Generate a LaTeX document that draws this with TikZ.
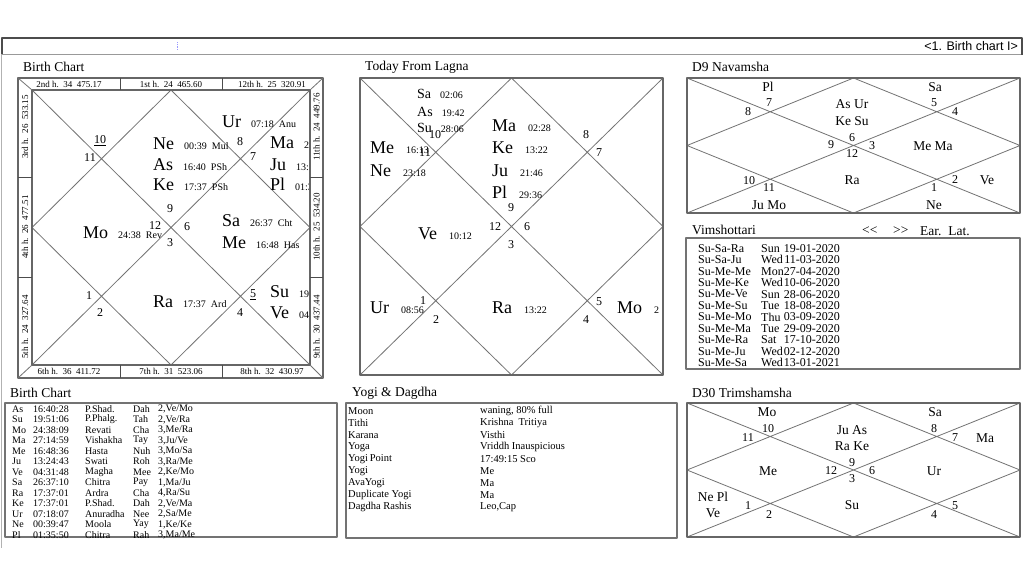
\documentclass[tikz,border=0pt]{standalone}
\usepackage{fontspec}
\setmainfont{Liberation Serif}
\newfontfamily\barfont{Liberation Sans}
\usetikzlibrary{calc}

% planet with its degree, on one baseline
\newcommand\bigpl[3][10pt]{{\fontsize{18}{18}\selectfont #2}\hspace{#1}{\fontsize{10}{10}\selectfont #3}}
\newcommand\smallpl[2]{{\fontsize{14}{14}\selectfont #1}\hspace{9pt}{\fontsize{10}{10}\selectfont #2}}

% north indian chart lines inside a box
\newcommand\rashichart[3]{%
  \coordinate (#1nw) at #2;
  \coordinate (#1se) at #3;
  \coordinate (#1ne) at (#1nw -| #1se);
  \coordinate (#1sw) at (#1nw |- #1se);
  \coordinate (#1n) at ($(#1nw)!.5!(#1ne)$);
  \coordinate (#1e) at ($(#1ne)!.5!(#1se)$);
  \coordinate (#1s) at ($(#1se)!.5!(#1sw)$);
  \coordinate (#1w) at ($(#1sw)!.5!(#1nw)$);
  \draw[chartline] (#1nw) -- (#1se) (#1ne) -- (#1sw) (#1n) -- (#1e) -- (#1s) -- (#1w) -- cycle;
}

\begin{document}
\begin{tikzpicture}[x=1pt, y=-1pt, line join=round,
  chartline/.style={draw=black!55, line width=0.8pt},
  chartbox/.style={draw=black!60, line width=1.6pt},
  panelbox/.style={draw=black!55, line width=1.3pt},
  divider/.style={draw=black!70, line width=1pt},
  title/.style={anchor=west, inner sep=0pt, font=\fontsize{13.5}{13.5}\selectfont},
  planet/.style={anchor=base west, inner sep=0pt},
  hnum/.style={inner sep=0pt, font=\fontsize{12}{12}\selectfont},
  vlabel/.style={inner sep=0pt, font=\fontsize{13.5}{13.5}\selectfont},
  strip/.style={inner sep=0pt, font=\fontsize{9}{9}\selectfont},
  row/.style={anchor=west, inner sep=0pt, font=\fontsize{10}{10}\selectfont}]

\useasboundingbox[fill=white] (0,0) rectangle (1024,576);

% top bar
\draw[black!40, line width=1pt] (2,54) -- (1022,54);
\draw[black!70, line width=1.5pt] (2,54) |- (1022,38) -- (1022,55);
\draw[blue!40, densely dotted, line width=0.8pt] (177,42) -- (177,50);
\node[anchor=east, inner sep=0pt, font=\barfont\fontsize{12.5}{12.5}\selectfont] (pagetab) at (1018,46) {<1. Birth chart I>};
\draw[black!30, line width=1pt] (1.5,54) -- (1.5,548);

% ---- birth chart
\node[title] (bctitle) at (23,67) {Birth Chart};
\rashichart{bc}{(32,90)}{(310,365)}
\begin{scope}
  \clip (bcnw) rectangle (bcse);
  \foreach \p/\x/\y/\d in {Ur/222/127/{07:18\enspace Anu}, Ne/153/149/{00:39\enspace Mul},
    Ma/270/148/{27:14\enspace Vis}, As/153/170/{16:40\enspace PSh}, Ju/270/170/{13:24\enspace Swa},
    Ke/153/190/{17:37\enspace PSh}, Pl/270/190/{01:35\enspace Cht}, Mo/83/238/{24:38\enspace Rev},
    Sa/222/226/{26:37\enspace Cht}, Me/222/248/{16:48\enspace Has}, Ra/153/307/{17:37\enspace Ard},
    Su/270/297/{19:51\enspace PPh}, Ve/270/318/{04:31\enspace Mag}}
    \node[planet] (bc\p) at (\x,\y) {\bigpl{\p}{\d}};
\end{scope}
\foreach \x/\y/\h [count=\i] in {100/141/{\underline{10}}, 90/158/11, 240/142/8, 253/157/7,
  170/209/9, 155/226/12, 187/227/6, 170/243/3, 89/296/1, 100/313/2, 253/295/{\underline{5}}, 240/313/4}
  \node[hnum] (bch\i) at (\x,\y) {\h};
\fill[white, even odd rule] (18,78) rectangle (323,378) (bcnw) rectangle (bcse);
\draw[chartbox] (18,78) rectangle (323,378);
\draw[chartbox] (bcnw) rectangle (bcse);
\draw[chartline] (18,78) -- (bcnw) (323,78) -- (bcne) (323,378) -- (bcse) (18,378) -- (bcsw);
\draw[divider] (120,78) -- (120,90) (222,78) -- (222,90) (120,365) -- (120,378) (222,365) -- (222,378)
  (18,177) -- (32,177) (18,277) -- (32,277) (310,177) -- (323,177) (310,277) -- (323,277);
\node[strip] (h2) at (69,84) {2nd h.\enspace 34\enspace 475.17};
\node[strip] (h1) at (171,84) {1st h.\enspace 24\enspace 465.60};
\node[strip] (h12) at (272,84) {12th h.\enspace 25\enspace 320.91};
\node[strip] (h6) at (69,371.5) {6th h.\enspace 36\enspace 411.72};
\node[strip] (h7) at (171,371.5) {7th h.\enspace 31\enspace 523.06};
\node[strip] (h8) at (272,371.5) {8th h.\enspace 32\enspace 430.97};
\node[strip, rotate=90] (h3) at (25,127) {3rd h.\enspace 26\enspace 533.15};
\node[strip, rotate=90] (h4) at (25,227) {4th h.\enspace 26\enspace 477.51};
\node[strip, rotate=90] (h5) at (25,327) {5th h.\enspace 24\enspace 327.64};
\node[strip, rotate=90] (h11) at (316.5,127) {11th h.\enspace 24\enspace 449.76};
\node[strip, rotate=90] (h10) at (316.5,227) {10th h.\enspace 25\enspace 534.20};
\node[strip, rotate=90] (h9) at (316.5,327) {9th h.\enspace 30\enspace 437.44};

% ---- today from lagna
\node[title] (tltitle) at (365,67) {Today From Lagna};
\rashichart{tl}{(360,78)}{(663,375)}
\begin{scope}
  \clip (tlnw) rectangle (tlse);
  \foreach \p/\x/\y/\d in {Sa/417/98/02:06, As/417/116/19:42, Su/417/132/28:06}
    \node[planet] (tl\p) at (\x,\y) {\smallpl{\p}{\d}};
  \foreach \p/\x/\y/\d in {Me/370/153/16:13, Ne/370/176/23:18, Ma/492/131/02:28, Ke/492/153/13:22,
    Ju/492/176/21:46, Pl/492/198/29:36, Ve/418/239/10:12, Ur/370/313/08:56, Ra/492/313/13:22, Mo/617/313/2}
    \node[planet] (tl\p) at (\x,\y) {\bigpl[12pt]{\p}{\d}};
\end{scope}
\foreach \x/\y/\h in {435/135/10, 425/153/11, 586/135/8, 599/153/7, 511/208/9, 495/227/12,
  527/227/6, 511/245/3, 423/301/1, 436/320/2, 599/302/5, 586/320/4}
  \node[hnum] (tlh\h) at (\x,\y) {\h};
\draw[chartbox] (tlnw) rectangle (tlse);

% ---- D9
\node[title] (d9title) at (692,67) {D9 Navamsha};
\rashichart{nv}{(687,78)}{(1020,213)}
\foreach \x/\y/\t [count=\i] in {768/87/Pl, 935/87/Sa, 852/104/As Ur, 852/121/Ke Su, 933/146/Me Ma,
  852/180/Ra, 769/205/Ju Mo, 987/180/Ve, 934/205/Ne}
  \node[vlabel] (nvp\i) at (\x,\y) {\t};
\foreach \x/\y/\h in {769/103/7, 748/112/8, 934/103/5, 955/112/4, 852/138/6, 831/145/9, 872/146/3,
  852/154/12, 749/181/10, 769/188/11, 934/188/1, 955/180/2}
  \node[hnum] (nvh\h) at (\x,\y) {\h};
\draw[chartbox] (nvnw) rectangle (nvse);

% ---- vimshottari
\node[title] (vdtitle) at (692,230) {Vimshottari};
\node[title] (vdback) at (862,231) {<\kern0pt<};
\node[title] (vdfwd) at (893,231) {>\kern0pt>};
\node[title] (vdear) at (920,231) {Ear.\enspace Lat.};
\draw[panelbox] (686,238) rectangle (1020,369);
\foreach \d/\w/\t [count=\i] in {Su-Sa-Ra/Sun/19-01-2020, Su-Sa-Ju/Wed/11-03-2020, Su-Me-Me/Mon/27-04-2020,
  Su-Me-Ke/Wed/10-06-2020, Su-Me-Ve/Sun/28-06-2020, Su-Me-Su/Tue/18-08-2020, Su-Me-Mo/Thu/03-09-2020,
  Su-Me-Ma/Tue/29-09-2020, Su-Me-Ra/Sat/17-10-2020, Su-Me-Ju/Wed/02-12-2020, Su-Me-Sa/Wed/13-01-2021}
{
  \node[row, font=\fontsize{12}{12}\selectfont] (vd\i) at (698,{248.5+11.4*(\i-1)}) {\d};
  \node[row, font=\fontsize{12}{12}\selectfont] (vdw\i) at (761,{248.5+11.4*(\i-1)}) {\w};
  \node[row, anchor=east, font=\fontsize{12}{12}\selectfont] (vdt\i) at (840,{248.5+11.4*(\i-1)}) {\t};
}

% ---- birth chart table
\node[title] (bttitle) at (10,393) {Birth Chart};
\draw[panelbox] (5,403) rectangle (337,537);
\foreach \p/\l/\n/\s/\k [count=\i] in {As/16:40:28/P.Shad./Dah/{2,Ve/Mo}, Su/19:51:06/P.Phalg./Tah/{2,Ve/Ra},
  Mo/24:38:09/Revati/Cha/{3,Me/Ra}, Ma/27:14:59/Vishakha/Tay/{3,Ju/Ve}, Me/16:48:36/Hasta/Nuh/{3,Mo/Sa},
  Ju/13:24:43/Swati/Roh/{3,Ra/Me}, Ve/04:31:48/Magha/Mee/{2,Ke/Mo}, Sa/26:37:10/Chitra/Pay/{1,Ma/Ju},
  Ra/17:37:01/Ardra/Cha/{4,Ra/Su}, Ke/17:37:01/P.Shad./Dah/{2,Ve/Ma}, Ur/07:18:07/Anuradha/Nee/{2,Sa/Me},
  Ne/00:39:47/Moola/Yay/{1,Ke/Ke}, Pl/01:35:50/Chitra/Rah/{3,Ma/Me}}
{
  \node[row] (bt\i) at (12,{409+10.5*(\i-1)}) {\p};
  \node[row] (btl\i) at (33,{409+10.5*(\i-1)}) {\l};
  \node[row] (btn\i) at (85,{409+10.5*(\i-1)}) {\n};
  \node[row] (bts\i) at (133,{409+10.5*(\i-1)}) {\s};
  \node[row] (btk\i) at (158,{409+10.5*(\i-1)}) {\k};
}

% ---- yogi & dagdha
\node[title] (ygtitle) at (352,393) {Yogi \& Dagdha};
\draw[panelbox] (346,403) rectangle (677,538);
\foreach \a/\b [count=\i] in {Moon/{waning, 80\% full}, Tithi/Krishna\enspace Tritiya, Karana/Visthi,
  Yoga/Vriddh Inauspicious, Yogi\,Point/17:49:15 Sco, Yogi/Me, AvaYogi/Ma, Duplicate Yogi/Ma,
  Dagdha Rashis/{Leo,Cap}}
{
  \node[row, font=\fontsize{10.5}{10.5}\selectfont] (yg\i) at (348,{411+12*(\i-1)}) {\a};
  \node[row, font=\fontsize{10.5}{10.5}\selectfont] (ygv\i) at (480,{411+12*(\i-1)}) {\b};
}

% ---- D30
\node[title] (d30title) at (692,393) {D30 Trimshamsha};
\rashichart{tr}{(687,403)}{(1020,537)}
\foreach \x/\y/\t [count=\i] in {767/412/Mo, 935/412/Sa, 852/430/Ju As, 852/446/Ra Ke, 985/438/Ma,
  768/471/Me, 934/471/Ur, 713/497/Ne Pl, 713/513/Ve, 852/505/Su}
  \node[vlabel] (trp\i) at (\x,\y) {\t};
\foreach \x/\y/\h in {768/429/10, 748/438/11, 934/429/8, 955/438/7, 852/463/9, 831/471/12, 872/471/6,
  852/479/3, 748/506/1, 769/515/2, 934/515/4, 955/506/5}
  \node[hnum] (trh\h) at (\x,\y) {\h};
\draw[chartbox] (trnw) rectangle (trse);
\end{tikzpicture}
\end{document}
